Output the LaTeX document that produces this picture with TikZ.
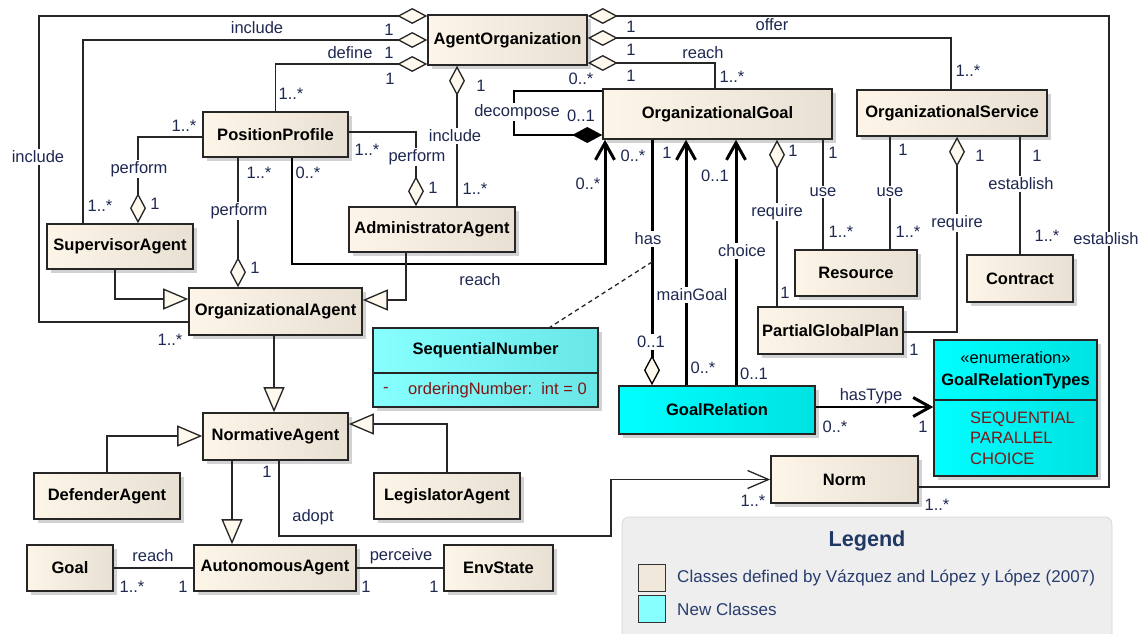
\documentclass[tikz,border=0pt]{standalone}
\usepackage{fontspec}
\setmainfont{Liberation Sans}
\usetikzlibrary{arrows.meta, shadows}

\definecolor{clsL}{RGB}{253,245,232}
\definecolor{clsR}{RGB}{232,224,210}
\definecolor{cyanL}{RGB}{0,255,255}
\definecolor{cyanR}{RGB}{0,226,226}
\definecolor{seqL}{RGB}{135,255,255}
\definecolor{seqR}{RGB}{105,230,230}
\definecolor{diafill}{RGB}{255,248,236}
\definecolor{lblcol}{RGB}{30,40,80}
\definecolor{attrcol}{RGB}{128,20,20}
\definecolor{legtitle}{RGB}{31,56,100}
\definecolor{legtext}{RGB}{40,60,110}
\definecolor{legfill}{RGB}{238,238,238}
\definecolor{legline}{RGB}{212,212,212}
\definecolor{swold}{RGB}{240,232,218}

\begin{document}
\begin{tikzpicture}[x=0.02cm, y=-0.02cm, every node/.style={font=\fontsize{9.4}{11}\selectfont}]
\tikzstyle{cls}=[draw=black!85, line width=0.9pt, inner sep=0, left color=clsL, right color=clsR, font=\fontsize{9.4}{11}\selectfont\bfseries, drop shadow={shadow xshift=2.5pt, shadow yshift=-2.5pt, fill=black!35}]
\tikzstyle{newcls}=[cls, left color=cyanL, right color=cyanR]
\tikzstyle{seqcls}=[cls, left color=seqL, right color=seqR]
\tikzstyle{assoc}=[line width=0.75pt, black!85]
\tikzstyle{agg}=[assoc, {Diamond[length=0.6cm, width=0.32cm, fill=diafill]}-]
\tikzstyle{comp}=[line width=1.4pt, {Diamond[length=0.6cm, width=0.32cm]}-]
\tikzstyle{gen}=[assoc, -{Triangle[length=0.5cm, width=0.42cm, fill=diafill]}]
\tikzstyle{nav}=[line width=1.7pt, -{Straight Barb[length=0.34cm, width=0.38cm]}]
\tikzstyle{navthin}=[assoc, -{Straight Barb[length=0.42cm, width=0.36cm]}]
\tikzstyle{hasl}=[line width=1.7pt, {Diamond[length=0.6cm, width=0.32cm, fill=diafill, line width=0.75pt]}-]
\tikzstyle{lbl}=[text=lblcol, inner sep=1pt]
\tikzstyle{onl}=[lbl, fill=white]

\useasboundingbox (0,0) rectangle (1138,634);

% legend
\draw[draw=legline, fill=legfill, rounded corners=4pt] (622,517) rectangle (1112,650);
\node[font=\fontsize{12.3}{14}\selectfont\bfseries, text=legtitle] (legtitle) at (867,541) {Legend};
\node[draw=black!80, line width=0.9pt, fill=swold, minimum size=0.54cm, inner sep=0] (swold) at (652,578) {};
\node[draw=black!80, line width=0.9pt, fill=seqL, minimum size=0.54cm, inner sep=0] (swnew) at (652,609) {};
\node[anchor=west, text=legtext, font=\fontsize{9.7}{11}\selectfont] (txold) at (671,578) {Classes defined by Vázquez and López y López (2007)};
\node[anchor=west, text=legtext, font=\fontsize{9.7}{11}\selectfont] (txnew) at (671,609) {New Classes};

% classes
\node[cls, minimum width=3.18cm, minimum height=1cm] (ao) at (507.5,40) {AgentOrganization};
\node[cls, minimum width=4.58cm, minimum height=1cm] (og) at (717.5,114) {OrganizationalGoal};
\node[cls, minimum width=3.8cm, minimum height=0.92cm] (os) at (952,113) {OrganizationalService};
\node[cls, minimum width=2.9cm, minimum height=0.9cm] (pp) at (275.5,134.5) {PositionProfile};
\node[cls, minimum width=2.92cm, minimum height=0.9cm] (sa) at (120,246.5) {SupervisorAgent};
\node[cls, minimum width=3.46cm, minimum height=0.94cm] (oa) at (275.5,311.5) {OrganizationalAgent};
\node[cls, minimum width=3.32cm, minimum height=0.9cm] (ad) at (432,229.5) {AdministratorAgent};
\node[cls, minimum width=2.44cm, minimum height=0.92cm] (res) at (856,273) {Resource};
\node[cls, minimum width=2.12cm, minimum height=0.94cm] (con) at (1020,278.5) {Contract};
\node[cls, minimum width=2.9cm, minimum height=0.94cm] (pgp) at (830.5,330.5) {PartialGlobalPlan};
\node[cls, minimum width=2.9cm, minimum height=0.94cm] (na) at (275.5,436.5) {NormativeAgent};
\node[cls, minimum width=2.92cm, minimum height=0.92cm] (da) at (107,496) {DefenderAgent};
\node[cls, minimum width=2.92cm, minimum height=0.92cm] (la) at (447,496) {LegislatorAgent};
\node[cls, minimum width=1.72cm, minimum height=0.92cm] (goal) at (70,568) {Goal};
\node[cls, minimum width=3.24cm, minimum height=0.92cm] (aa) at (275,568) {AutonomousAgent};
\node[cls, minimum width=2.18cm, minimum height=0.92cm] (es) at (498.5,568) {EnvState};
\node[cls, minimum width=2.94cm, minimum height=0.94cm] (norm) at (844.5,479.5) {Norm};
\node[newcls, minimum width=3.92cm, minimum height=0.96cm] (gr) at (717,410) {GoalRelation};
\node[seqcls, minimum width=4.5cm, minimum height=0.9cm] (sn) at (485.5,350.5) {SequentialNumber};
\node[seqcls, minimum width=4.5cm, minimum height=0.68cm] (snattr) at (485.5,390) {};
\node[newcls, minimum width=3.26cm, minimum height=1.2cm, align=center, font=\fontsize{9.4}{12.5}\selectfont\bfseries] (grt) at (1015.5,370) {\mdseries«enumeration»\\GoalRelationTypes};
\node[newcls, minimum width=3.26cm, minimum height=1.52cm] (grtv) at (1015.5,438) {};
\node[anchor=west, text=attrcol] (snvis) at (377,390) {-};
\node[anchor=west, text=attrcol] (snfield) at (402,390) {orderingNumber:\ \ int = 0};
\node[anchor=west, text=attrcol, align=left, font=\fontsize{9.4}{11.6}\selectfont] (grtvals) at (964,438) {SEQUENTIAL\\PARALLEL\\CHOICE};

% AgentOrganization
\draw[agg] (ao.west |- 0,16) -| (39,322) -- (oa.west |- 0,322);
\draw[agg] (ao.west |- 0,40) -| (83,0 |- sa.north);
\draw[agg] (ao.west |- 0,64) -| (pp.north);
\draw[agg] (457,0 |- ao.south) -- (457,0 |- ad.north);
\draw[agg] (ao.east |- 0,16) -| (1109,487) -- (norm.east |- 0,487);
\draw[agg] (ao.east |- 0,38) -| (951,0 |- os.north);
\draw[agg] (ao.east |- 0,63) -| (715,0 |- og.north);
\draw[comp] (og.west |- 0,135) -| (514,91) -- (og.west |- 0,91);

% PositionProfile
\draw[agg] (138,0 |- sa.north) |- (pp.west |- 0,137);
\draw[agg] (238,0 |- oa.north) -- (238,0 |- pp.south);
\draw[agg] (416,0 |- ad.north) |- (pp.east |- 0,132);
\draw[nav] (292,0 |- pp.south) |- (605,264) -- (605,0 |- og.south);

% OrganizationalGoal and GoalRelation
\draw[hasl] (652,0 |- gr.north) -- (652,0 |- og.south);
\coordinate (hasmid) at (652,262);
\draw[assoc, dash pattern=on 2.5pt off 2pt] (hasmid) -- (550,0 |- sn.north);
\draw[nav] (686,0 |- gr.north) -- (686,0 |- og.south);
\draw[nav] (736,0 |- gr.north) -- (736,0 |- og.south);
\draw[agg] (777,0 |- og.south) -- (777,0 |- pgp.north);
\draw[assoc] (823,0 |- og.south) -- (823,0 |- res.north);
\draw[nav] (gr.east |- 0,407) -- (grtv.west |- 0,407);

% OrganizationalService
\draw[assoc] (890,0 |- os.south) -- (890,0 |- res.north);
\draw[agg] (957,0 |- os.south) |- (pgp.east |- 0,332);
\draw[assoc] (con.north |- os.south) -- (con.north);

% generalizations
\draw[gen] (115,0 |- sa.south) |- (oa.west |- 0,299);
\draw[gen] (406,0 |- ad.south) |- (oa.east |- 0,300);
\draw[gen] (274,0 |- oa.south) -- (274,0 |- na.north);
\draw[gen] (da.north) |- (na.west |- 0,436);
\draw[gen] (la.north) |- (na.east |- 0,424);
\draw[gen] (232,0 |- na.south) -- (232,0 |- aa.north);

% lower associations
\draw[assoc] (goal.east) -- (aa.west);
\draw[assoc] (aa.east) -- (es.west);
\draw[navthin] (279,0 |- na.south) |- (611,536) |- (norm.west);

% role names
\node[lbl] (nIncA) at (257,28) {include};
\node[lbl] (nDef) at (350,53) {define};
\node[onl] (nIncB) at (38,157) {include};
\node[onl] (nPerfA) at (139,169) {perform};
\node[onl] (nPerfB) at (239,211) {perform};
\node[onl] (nPerfC) at (417,157) {perform};
\node[onl] (nIncC) at (455,136) {include};
\node[onl] (nDecomp) at (517,112) {decompose};
\node[lbl] (nReachA) at (703,53) {reach};
\node[lbl] (nOffer) at (772,25) {offer};
\node[lbl] (nReachB) at (480,280) {reach};
\node[onl] (nHas) at (648,239) {has};
\node[onl] (nMain) at (692,295) {mainGoal};
\node[onl] (nChoice) at (742,251) {choice};
\node[onl] (nReqA) at (777,212) {require};
\node[onl] (nUseA) at (823,192) {use};
\node[onl] (nUseB) at (890,192) {use};
\node[onl] (nReqB) at (957,223) {require};
\node[onl] (nEstA) at (1021,184) {establish};
\node[onl, inner sep=0.5pt] (nEstB) at (1106,239) {establish};
\node[lbl] (nType) at (871,396) {hasType};
\node[lbl] (nAdopt) at (313,517) {adopt};
\node[lbl] (nReachC) at (153,556) {reach};
\node[lbl] (nPerc) at (401,556) {perceive};

% multiplicities
\node[lbl] (m1) at (389,30) {1};
\node[lbl] (m2) at (389,53) {1};
\node[lbl] (m3) at (390,79) {1};
\node[lbl] (m4) at (631,27) {1};
\node[lbl] (m5) at (631,50) {1};
\node[lbl] (m6) at (631,76) {1};
\node[lbl] (m7) at (481,86) {1};
\node[lbl] (m8) at (170,340) {1..*};
\node[lbl] (m9) at (100,206) {1..*};
\node[lbl] (m10) at (291,94) {1..*};
\node[lbl] (m11) at (184,126) {1..*};
\node[lbl] (m12) at (155,204) {1};
\node[lbl] (m13) at (259,173) {1..*};
\node[lbl] (m14) at (255,268) {1};
\node[lbl] (m15) at (367,150) {1..*};
\node[lbl] (m16) at (433,188) {1};
\node[lbl] (m17) at (475,189) {1..*};
\node[lbl] (m18) at (308,173) {0..*};
\node[lbl] (m19) at (581,79) {0..*};
\node[lbl] (m20) at (581,116) {0..1};
\node[lbl] (m21) at (732,77) {1..*};
\node[lbl] (m22) at (968,71) {1..*};
\node[lbl] (m23) at (588,184) {0..*};
\node[lbl] (m24) at (633,156) {0..*};
\node[lbl] (m25) at (667,153) {1};
\node[lbl] (m26) at (715,176) {0..1};
\node[lbl] (m27) at (793,151) {1};
\node[lbl] (m28) at (833,153) {1};
\node[lbl] (m29) at (841,232) {1..*};
\node[lbl] (m30) at (785,293) {1};
\node[lbl] (m31) at (903,150) {1};
\node[lbl] (m32) at (908,232) {1..*};
\node[lbl] (m33) at (980,156) {1};
\node[lbl] (m34) at (914,350) {1};
\node[lbl] (m35) at (1037,156) {1};
\node[lbl] (m36) at (1047,236) {1..*};
\node[onl] (m37) at (651,342) {0..1};
\node[lbl] (m38) at (703,368) {0..*};
\node[lbl] (m39) at (754,374) {0..1};
\node[lbl] (m40) at (835,427) {0..*};
\node[lbl] (m41) at (923,427) {1};
\node[lbl] (m42) at (267,472) {1};
\node[lbl] (m43) at (753,501) {1..*};
\node[lbl] (m44) at (937,505) {1..*};
\node[lbl] (m45) at (132,587) {1..*};
\node[lbl] (m46) at (183,587) {1};
\node[lbl] (m47) at (366,587) {1};
\node[lbl] (m48) at (434,587) {1};
\end{tikzpicture}
\end{document}
